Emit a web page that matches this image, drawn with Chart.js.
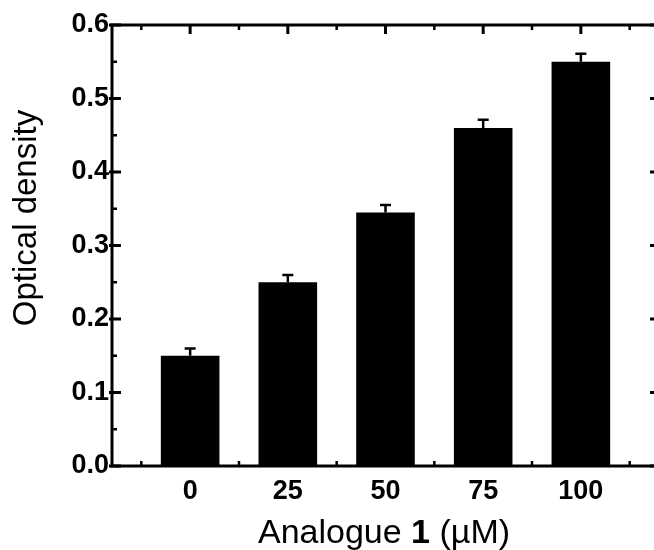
<!DOCTYPE html>
<html>
<head>
<meta charset="utf-8">
<script src="https://cdn.jsdelivr.net/npm/chart.js@4"></script>
<style>
  html, body { margin: 0; padding: 0; background: #fff; overflow: hidden; }
  #wrap { position: absolute; left: 0; top: 0; width: 670px; height: 550px; }
</style>
</head>
<body>
<div id="wrap"><canvas id="od-chart" width="670" height="550"></canvas></div>
<script>
// concentrations d'analogue 1 (µM) et densité optique mesurée
const doses = ['0', '25', '50', '75', '100'];
const density = [0.15, 0.25, 0.345, 0.46, 0.55];
const sem = [0.01, 0.01, 0.01, 0.011, 0.011];
const yTicks = [0, 0.1, 0.2, 0.3, 0.4, 0.5, 0.6];

const FONT = "'Liberation Sans', Arial, sans-serif";

// cadre façon GraphPad : axes sur 4 côtés, graduations vers l'intérieur
const framePlugin = {
  id: 'frame',
  afterDatasetsDraw(chart) {
    const { ctx, chartArea: a, scales: { x, y } } = chart;
    ctx.save();
    ctx.strokeStyle = '#000';
    ctx.lineCap = 'butt';

    // barres d'erreur (vers le haut seulement)
    ctx.lineWidth = 2.5;
    density.forEach((v, i) => {
      const px = x.getPixelForValue(i);
      const top = y.getPixelForValue(v);
      const et = y.getPixelForValue(v + sem[i]);
      ctx.beginPath();
      ctx.moveTo(px, top);
      ctx.lineTo(px, et);
      ctx.moveTo(px - 5.5, et);
      ctx.lineTo(px + 5.5, et);
      ctx.stroke();
    });

    // axes
    ctx.lineWidth = 3;
    ctx.beginPath();
    ctx.moveTo(a.left - 1.5, a.top);
    ctx.lineTo(a.right + 1.5, a.top);
    ctx.moveTo(a.left, a.top);
    ctx.lineTo(a.left, a.bottom);
    ctx.moveTo(a.left - 1.5, a.bottom);
    ctx.lineTo(a.right + 1.5, a.bottom);
    ctx.moveTo(a.right, a.top);
    ctx.lineTo(a.right, a.bottom);
    ctx.stroke();

    // graduations y (gauche et droite)
    yTicks.forEach((t, k) => {
      const py = y.getPixelForValue(t);
      ctx.lineWidth = 3;
      ctx.beginPath();
      ctx.moveTo(a.left - 3, py); ctx.lineTo(a.left + 9, py);
      ctx.moveTo(a.right, py); ctx.lineTo(a.right - 9, py);
      ctx.stroke();
      if (k < yTicks.length - 1) {
        const pm = y.getPixelForValue((t + yTicks[k + 1]) / 2);
        ctx.lineWidth = 2.5;
        ctx.beginPath();
        ctx.moveTo(a.left, pm); ctx.lineTo(a.left + 5, pm);
        ctx.moveTo(a.right, pm); ctx.lineTo(a.right - 5, pm);
        ctx.stroke();
      }
    });

    // graduations x : majeures en haut, mineures haut et bas
    doses.forEach((d, i) => {
      const px = x.getPixelForValue(i);
      ctx.lineWidth = 3;
      ctx.beginPath();
      ctx.moveTo(px, a.top); ctx.lineTo(px, a.top + 9);
      ctx.stroke();
    });
    for (let i = -0.5; i <= doses.length - 0.5; i++) {
      const px = x.getPixelForValue(i);
      ctx.lineWidth = 2.5;
      ctx.beginPath();
      ctx.moveTo(px, a.top); ctx.lineTo(px, a.top + 5);
      ctx.moveTo(px, a.bottom); ctx.lineTo(px, a.bottom - 5);
      ctx.stroke();
    }
    ctx.restore();
  },
  afterDraw(chart) {
    const { ctx, chartArea: a } = chart;
    ctx.save();
    ctx.fillStyle = '#000';
    // titre axe y
    ctx.translate(27, 218);
    ctx.rotate(-Math.PI / 2);
    ctx.font = `33px ${FONT}`;
    ctx.textAlign = 'center';
    ctx.textBaseline = 'middle';
    ctx.fillText('Optical density', 0, 0);
    ctx.restore();

    // titre axe x avec le "1" en gras
    ctx.save();
    ctx.fillStyle = '#000';
    ctx.textBaseline = 'alphabetic';
    const parts = [['Analogue ', 'normal'], ['1', 'bold'], [' (µM)', 'normal']];
    let total = 0;
    parts.forEach(p => { ctx.font = `${p[1]} 34px ${FONT}`; total += ctx.measureText(p[0]).width; });
    let cx = 384 - total / 2;
    parts.forEach(p => {
      ctx.font = `${p[1]} 34px ${FONT}`;
      ctx.fillText(p[0], cx, 543);
      cx += ctx.measureText(p[0]).width;
    });
    ctx.restore();
  }
};

new Chart(document.querySelector('#od-chart'), {
  type: 'bar',
  data: {
    datasets: [{
      data: density.map((v, i) => ({ x: i, y: v })),
      backgroundColor: '#000',
      borderWidth: 0,
      barPercentage: 0.6,
      categoryPercentage: 1
    }]
  },
  options: {
    responsive: false,
    animation: false,
    devicePixelRatio: 1,
    layout: { padding: { top: 25, right: 11, bottom: 0, left: 0 } },
    plugins: { legend: { display: false }, tooltip: { enabled: false } },
    scales: {
      x: {
        type: 'linear',
        offset: false,
        min: -0.8,
        max: doses.length - 0.2,
        grid: { display: false, drawTicks: false },
        border: { display: false },
        afterBuildTicks: (scale) => { scale.ticks = doses.map((d, i) => ({ value: i })); },
        afterFit: (scale) => { scale.height = 84; },
        ticks: {
          padding: 9,
          color: '#000',
          font: { family: FONT, size: 27, weight: 'bold' },
          callback: (v) => doses[v]
        }
      },
      y: {
        min: 0,
        max: 0.6,
        grid: { display: false, drawTicks: false },
        border: { display: false },
        afterBuildTicks: (scale) => { scale.ticks = yTicks.map(v => ({ value: v })); },
        afterFit: (scale) => { scale.width = 112; },
        ticks: {
          padding: 3,
          color: '#000',
          font: { family: FONT, size: 27, weight: 'bold' },
          callback: (v) => v.toFixed(1)
        }
      }
    }
  },
  plugins: [framePlugin]
});
</script>
</body>
</html>
